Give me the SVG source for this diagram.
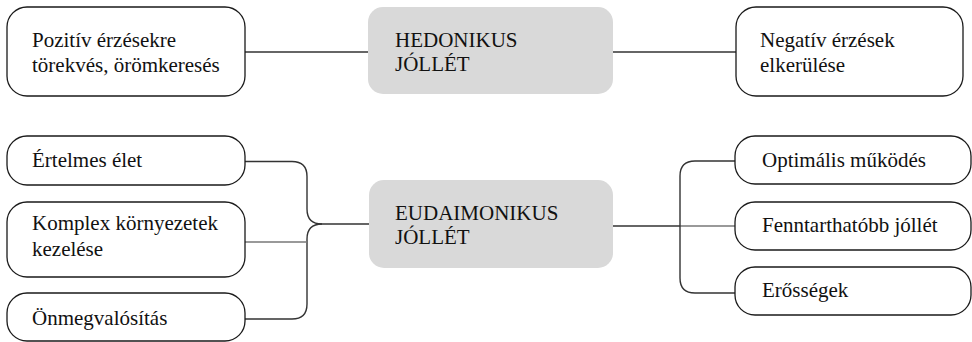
<svg xmlns="http://www.w3.org/2000/svg" width="972" height="342" viewBox="0 0 972 342">
  <style>
    .box { fill: #ffffff; stroke: #1a1a1a; stroke-width: 1.3; }
    .core { fill: #d9d9d9; stroke: none; }
    .lbl { font-size: 21px; fill: #111111; }
    .link { fill: none; stroke: #333333; stroke-width: 1.4; }
    .link-soft { fill: none; stroke: #777777; stroke-width: 1.4; }
  </style>

  <!-- connectors -->
  <g id="connectors">
    <!-- hedonic row -->
    <path class="link" d="M245 52 H368"/>
    <path class="link" d="M613 52 H736"/>
    <!-- eudaimonic brace, left side -->
    <path class="link" d="M245 161.5 H292 Q307 161.5 307 176.5 V209 Q307 224 322 224 H369"/>
    <path class="link" d="M322 224 Q307 224 307 239 V304 Q307 319 292 319 H245"/>
    <path class="link-soft" d="M245 242 H307"/>
    <!-- eudaimonic brace, right side -->
    <path class="link" d="M613 226 H680"/>
    <path class="link-soft" d="M680 226 H735"/>
    <path class="link" d="M735 161 H695 Q680 161 680 176 V278 Q680 293 695 293 H735"/>
  </g>

  <!-- node labels use a Times-metric serif face -->
  <g id="nodes" font-family="Times New Roman, Liberation Serif, serif">
    <!-- hedonic well-being -->
    <g id="node-hedonikus">
      <rect class="core" x="368" y="7" width="245" height="87" rx="15"/>
      <text class="lbl" x="395" y="47">HEDONIKUS</text>
      <text class="lbl" x="395" y="71">JÓLLÉT</text>
    </g>
    <g id="node-pozitiv">
      <rect class="box" x="7" y="7" width="238" height="89" rx="20"/>
      <text class="lbl" x="32" y="47">Pozitív érzésekre</text>
      <text class="lbl" x="32" y="72">törekvés, örömkeresés</text>
    </g>
    <g id="node-negativ">
      <rect class="box" x="736" y="7" width="227" height="89" rx="20"/>
      <text class="lbl" x="760" y="47">Negatív érzések</text>
      <text class="lbl" x="760" y="72">elkerülése</text>
    </g>

    <!-- eudaimonic well-being -->
    <g id="node-eudaimonikus">
      <rect class="core" x="369" y="180" width="244" height="88" rx="15"/>
      <text class="lbl" x="395" y="220">EUDAIMONIKUS</text>
      <text class="lbl" x="395" y="244">JÓLLÉT</text>
    </g>
    <g id="node-ertelmes">
      <rect class="box" x="7" y="136" width="238" height="49" rx="20"/>
      <text class="lbl" x="32" y="167">Értelmes élet</text>
    </g>
    <g id="node-komplex">
      <rect class="box" x="7" y="202" width="238" height="75" rx="20"/>
      <text class="lbl" x="32" y="230">Komplex környezetek</text>
      <text class="lbl" x="32" y="256">kezelése</text>
    </g>
    <g id="node-onmegvalositas">
      <rect class="box" x="7" y="293" width="238" height="48" rx="20"/>
      <text class="lbl" x="32" y="325">Önmegvalósítás</text>
    </g>
    <g id="node-optimalis">
      <rect class="box" x="735" y="136" width="236" height="48" rx="20"/>
      <text class="lbl" x="762" y="167">Optimális működés</text>
    </g>
    <g id="node-fenntarthato">
      <rect class="box" x="735" y="202" width="236" height="48" rx="20"/>
      <text class="lbl" x="762" y="232">Fenntarthatóbb jóllét</text>
    </g>
    <g id="node-erossegek">
      <rect class="box" x="735" y="267" width="236" height="48" rx="20"/>
      <text class="lbl" x="762" y="297">Erősségek</text>
    </g>
  </g>
</svg>
